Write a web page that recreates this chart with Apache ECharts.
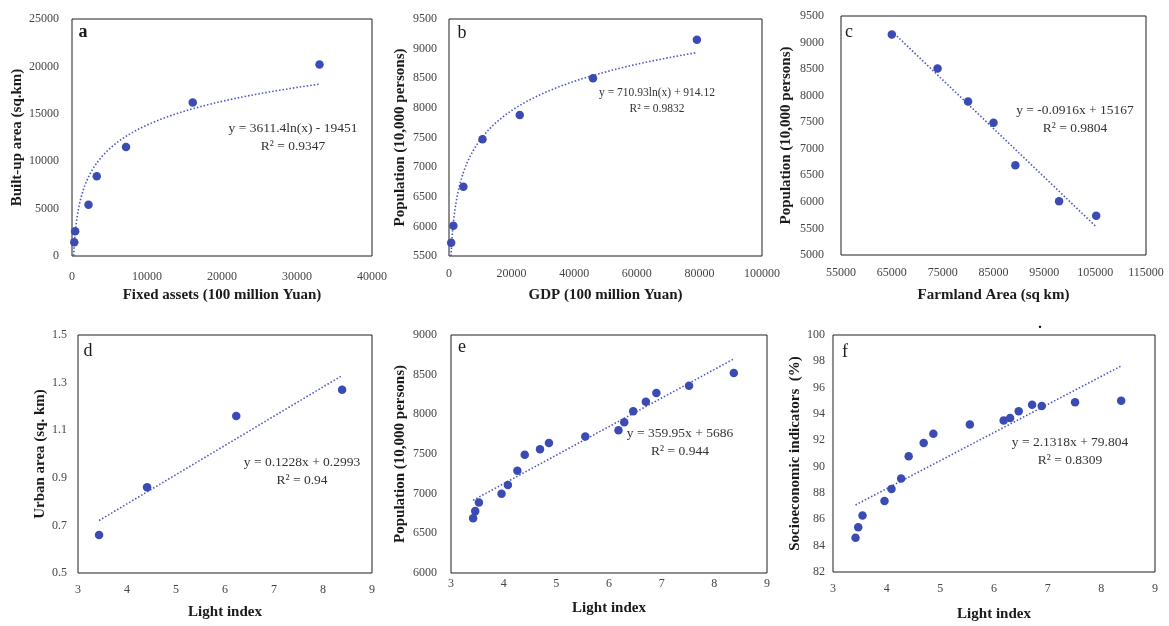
<!DOCTYPE html>
<html>
<head>
<meta charset="utf-8">
<script src="https://cdn.jsdelivr.net/npm/echarts@6/dist/echarts.min.js"></script>
<style>
html,body{margin:0;padding:0;background:#fff;}
#chart{width:1169px;height:626px;}
</style>
</head>
<body>
<div id="chart"></div>
<script>
// ---- Data ----
var aX = [300, 420, 2200, 3300, 7200, 16100, 33000];
var aY = [1450, 2600, 5400, 8400, 11500, 16200, 20200];
var aFit = [3611.4, -19451];      // y = a*ln(x) + b
var aFitRange = [220, 33000];

var bX = [700, 1400, 4600, 10700, 22600, 46000, 79200];
var bY = [5725, 6010, 6670, 7470, 7880, 8500, 9150];
var bFit = [710.93, 914.12];
var bFitRange = [633, 79200];

var cX = [65000, 74000, 80000, 85000, 89300, 97900, 105200];
var cY = [9150, 8510, 7890, 7490, 6690, 6010, 5740];
var cFit = [-0.0916, 15167];      // y = a*x + b
var cFitRange = [65000, 105200];

var dX = [3.43, 4.41, 6.23, 8.39];
var dY = [0.66, 0.86, 1.16, 1.27];
var dFit = [0.1228, 0.2993];
var dFitRange = [3.43, 8.39];

var eX = [3.42, 3.46, 3.53, 3.96, 4.08, 4.26, 4.40, 4.69, 4.86, 5.55, 6.18, 6.29, 6.46, 6.70, 6.90, 7.52, 8.37];
var eY = [6690, 6780, 6890, 7000, 7110, 7290, 7490, 7560, 7640, 7720, 7800, 7900, 8040, 8160, 8270, 8360, 8520];
var eFit = [359.95, 5686];
var eFitRange = [3.42, 8.37];

var fX = [3.42, 3.47, 3.55, 3.96, 4.09, 4.27, 4.41, 4.69, 4.87, 5.55, 6.18, 6.30, 6.46, 6.71, 6.89, 7.51, 8.37];
var fY = [84.6, 85.4, 86.3, 87.4, 88.3, 89.1, 90.8, 91.8, 92.5, 93.2, 93.5, 93.7, 94.2, 94.7, 94.6, 94.9, 95.0];
var fFit = [2.1318, 79.804];
var fFitRange = [3.42, 8.37];

var xTitles = ['Fixed assets (100 million Yuan)', 'GDP (100 million Yuan)', 'Farmland Area (sq km)', 'Light index', 'Light index', 'Light index'];
var yTitles = ['Built-up area (sq.km)', 'Population (10,000 persons)', 'Population (10,000 persons)', 'Urban area (sq. km)', 'Population (10,000 persons)', 'Socioeconomic indicators  (%)'];
var panelLetters = ['a', 'b', 'c', 'd', 'e', 'f'];
var eqTexts = [
  ['y = 3611.4ln(x) - 19451', 'R\u00b2 = 0.9347'],
  ['y = 710.93ln(x) + 914.12', 'R\u00b2 = 0.9832'],
  ['y = -0.0916x + 15167', 'R\u00b2 = 0.9804'],
  ['y = 0.1228x + 0.2993', 'R\u00b2 = 0.94'],
  ['y = 359.95x + 5686', 'R\u00b2 = 0.944'],
  ['y = 2.1318x + 79.804', 'R\u00b2 = 0.8309']
];
// axis ranges [min, max, interval]
var xRanges = [[0, 40000, 10000], [0, 100000, 20000], [55000, 115000, 10000], [3, 9, 1], [3, 9, 1], [3, 9, 1]];
var yRanges = [[0, 25000, 5000], [5500, 9500, 500], [5000, 9500, 500], [0.5, 1.5, 0.2], [6000, 9000, 500], [82, 100, 2]];

// ---- Layout / styles ----
var FONT = '"Liberation Serif", "DejaVu Serif", serif';
var grids = [
  {left: 72, top: 19, width: 300, height: 237},
  {left: 449, top: 19, width: 313, height: 237},
  {left: 841, top: 16, width: 305, height: 239},
  {left: 78, top: 335, width: 294, height: 238},
  {left: 451, top: 335, width: 316, height: 238},
  {left: 833, top: 335, width: 322, height: 237}
];
var xLabelMargin = [15, 12, 12, 11, 5, 11];
var yLabelMargin = [13, 12, 17, 11, 14, 8];
var xNameGap = [32, 32, 33, 32, 28, 35];
var yNameGap = [46, 41, 47, 29, 43, 26];
var eqPos = [[293, 128], [657, 93], [1075, 110], [302, 462], [680, 433], [1070, 442]];
var eqSize = [13.5, 11.5, 13.5, 13.5, 13.5, 13.5];
var letterPos = [[83, 32], [462, 33], [849, 32], [88, 351], [462, 347], [845, 352]];

var PT = '#3A4BB4';
var LINE = '#4B55C2';
var TICK = '#454545';

function linFit(c, r) { return [[r[0], c[0]*r[0]+c[1]], [r[1], c[0]*r[1]+c[1]]]; }
function logFit(c, r) {
  var out = [], n = 200;
  var l0 = Math.log(r[0]), l1 = Math.log(r[1]);
  for (var i = 0; i <= n; i++) {
    var x = Math.exp(l0 + (l1 - l0) * i / n);
    out.push([x, c[0]*Math.log(x) + c[1]]);
  }
  return out;
}
function zip(xs, ys) { return xs.map(function (x, i) { return [x, ys[i]]; }); }

var pts = [zip(aX, aY), zip(bX, bY), zip(cX, cY), zip(dX, dY), zip(eX, eY), zip(fX, fY)];
var fits = [logFit(aFit, aFitRange), logFit(bFit, bFitRange), linFit(cFit, cFitRange),
            linFit(dFit, dFitRange), linFit(eFit, eFitRange), linFit(fFit, fFitRange)];

var option = {
  backgroundColor: '#fff',
  animation: false,
  grid: grids.map(function (g) {
    return Object.assign({show: true, borderColor: '#1e1e1e', borderWidth: 1, backgroundColor: 'transparent'}, g);
  }),
  xAxis: xRanges.map(function (r, i) {
    return {
      type: 'value', gridIndex: i, min: r[0], max: r[1], interval: r[2],
      name: xTitles[i], nameLocation: 'middle', nameGap: xNameGap[i],
      nameTextStyle: {fontFamily: FONT, fontSize: 15, fontWeight: 'bold', color: '#1a1a1a'},
      axisLine: {show: false}, axisTick: {show: false}, splitLine: {show: false},
      axisLabel: {fontFamily: FONT, fontSize: 12, color: TICK, margin: xLabelMargin[i],
        formatter: function (v) { return String(Math.round(v * 10) / 10); }}
    };
  }),
  yAxis: yRanges.map(function (r, i) {
    return {
      type: 'value', gridIndex: i, min: r[0], max: r[1], interval: r[2],
      name: yTitles[i], nameLocation: 'middle', nameGap: yNameGap[i],
      nameTextStyle: {fontFamily: FONT, fontSize: 15, fontWeight: 'bold', color: '#1a1a1a'},
      axisLine: {show: false}, axisTick: {show: false}, splitLine: {show: false},
      axisLabel: {fontFamily: FONT, fontSize: 12, color: TICK, margin: yLabelMargin[i],
        formatter: function (v) { return i === 3 ? v.toFixed(1) : String(Math.round(v)); }}
    };
  }),
  series: [],
  graphic: []
};

for (var i = 0; i < 6; i++) {
  option.series.push({
    type: 'line', xAxisIndex: i, yAxisIndex: i, data: fits[i], showSymbol: false, symbol: 'none',
    clip: true, lineStyle: {color: LINE, width: 1.6, type: [1.5, 2]}, z: 2, silent: true
  });
  option.series.push({
    type: 'scatter', xAxisIndex: i, yAxisIndex: i, data: pts[i], symbolSize: 8.5,
    itemStyle: {color: PT, opacity: 1}, z: 3
  });
  option.graphic.push({
    type: 'text', x: eqPos[i][0], y: eqPos[i][1],
    style: {text: eqTexts[i][0], fontFamily: FONT, fontSize: eqSize[i], fill: '#333', align: 'center', verticalAlign: 'middle'}
  });
  option.graphic.push({
    type: 'text', x: eqPos[i][0], y: eqPos[i][1] + (i === 1 ? 16 : 18),
    style: {text: eqTexts[i][1], fontFamily: FONT, fontSize: eqSize[i], fill: '#333', align: 'center', verticalAlign: 'middle'}
  });
  option.graphic.push({
    type: 'text', x: letterPos[i][0], y: letterPos[i][1],
    style: {text: panelLetters[i], fontFamily: FONT, fontSize: 18, fontWeight: i === 0 ? 'bold' : 'normal', fill: '#1a1a1a', align: 'center', verticalAlign: 'middle'}
  });
}
option.graphic.push({
  type: 'text', x: 1040, y: 331,
  style: {text: '.', fontFamily: FONT, fontSize: 14, fontWeight: 'bold', fill: '#000', align: 'center', verticalAlign: 'bottom'}
});

var chart = echarts.init(document.getElementById('chart'), null, {renderer: 'canvas'});
chart.setOption(option);
</script>
</body>
</html>
